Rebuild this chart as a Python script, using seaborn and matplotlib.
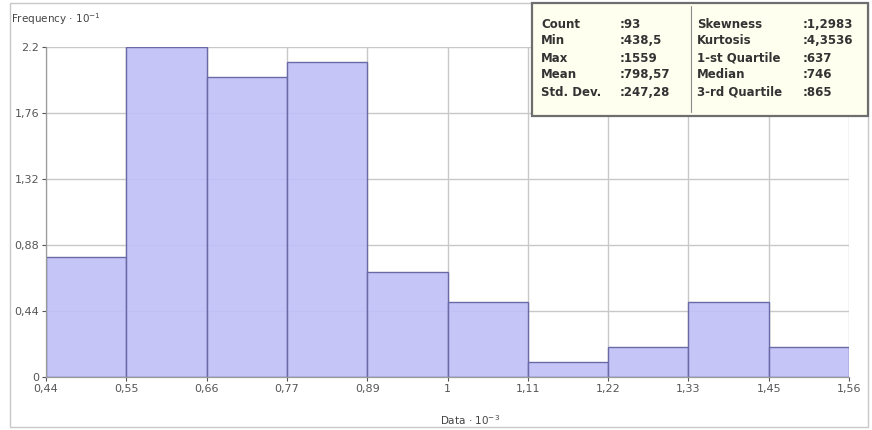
import matplotlib.pyplot as plt
import seaborn as sns
from matplotlib.patches import Rectangle

# histogram data (x in 10^3 units, frequency in 10^1 units)
bin_edges = [0.4385, 0.5506, 0.6626, 0.7747, 0.8867, 0.9988,
             1.1108, 1.2229, 1.3349, 1.4470, 1.5590]
bin_freq = [0.8, 2.2, 2.0, 2.1, 0.7, 0.5, 0.1, 0.2, 0.5, 0.2]
x_tick_labels = ["0,44", "0,55", "0,66", "0,77", "0,89", "1",
                 "1,11", "1,22", "1,33", "1,45", "1,56"]
y_ticks = [0, 0.44, 0.88, 1.32, 1.76, 2.2]
y_tick_labels = ["0", "0,44", "0,88", "1,32", "1,76", "2.2"]

stats_left = [("Count", ":93"), ("Min", ":438,5"), ("Max", ":1559"),
              ("Mean", ":798,57"), ("Std. Dev.", ":247,28")]
stats_right = [("Skewness", ":1,2983"), ("Kurtosis", ":4,3536"),
               ("1-st Quartile", ":637"), ("Median", ":746"),
               ("3-rd Quartile", ":865")]

sns.set_style("white")
plt.rcParams["font.family"] = ["DejaVu Sans"]

fig = plt.figure(figsize=(8.72, 4.30), dpi=100)
ax = fig.add_axes([46 / 872, 1 - 377 / 430, 803 / 872, 330 / 430])

centers = [(bin_edges[i] + bin_edges[i + 1]) / 2 for i in range(len(bin_freq))]
sns.histplot(x=centers, weights=bin_freq, bins=bin_edges, ax=ax,
             color="#c0c0f8", edgecolor="#6a6aa6", linewidth=1.0,
             alpha=0.92, zorder=2)

ax.set_xlim(bin_edges[0], bin_edges[-1])
ax.set_ylim(0, 2.2)
ax.set_xticks(bin_edges)
ax.set_xticklabels(x_tick_labels)
ax.set_yticks(y_ticks)
ax.set_yticklabels(y_tick_labels)
ax.tick_params(axis="both", labelsize=8, colors="#555555", length=3,
               width=0.8, pad=2, direction="out")
ax.tick_params(axis="both", which="both", left=True, bottom=True)
ax.set_xlabel("")
ax.set_ylabel("")
ax.grid(True, color="#c8c8c8", linewidth=1.0, zorder=0)
ax.set_axisbelow(True)
for side in ("top", "right"):
    ax.spines[side].set_visible(False)
for side in ("left", "bottom"):
    ax.spines[side].set_color("#9a9a9a")
    ax.spines[side].set_linewidth(0.9)

# outer frame
fig.patches.append(Rectangle((10 / 872, 3 / 430), 858 / 872, 424 / 430,
                             transform=fig.transFigure, fill=False,
                             edgecolor="#c8c8c8", linewidth=1.0))

fig.text(11 / 872, 1 - 19 / 430, "Frequency · 10$^{-1}$", fontsize=7.5,
         color="#444444", va="center", ha="left")
fig.text(470 / 872, 1 - 420 / 430, "Data · 10$^{-3}$", fontsize=7.5,
         color="#444444", va="center", ha="center")

# statistics box
box = Rectangle((532 / 872, 1 - 116 / 430), 336 / 872, 113 / 430,
                transform=fig.transFigure, facecolor="#fffff0",
                edgecolor="#6e6e6e", linewidth=1.6, zorder=5)
fig.patches.append(box)
fig.lines.append(plt.Line2D([691 / 872, 691 / 872],
                            [1 - 112 / 430, 1 - 6 / 430],
                            transform=fig.transFigure, color="#8a8a8a",
                            linewidth=0.8, zorder=6))
row_y = [24, 41, 58, 75, 92]
for (name, val), y in zip(stats_left, row_y):
    fig.text(541 / 872, 1 - y / 430, name, fontsize=8.5, fontweight="bold",
             color="#333333", va="center", zorder=7)
    fig.text(620 / 872, 1 - y / 430, val, fontsize=8.5, fontweight="bold",
             color="#333333", va="center", zorder=7)
for (name, val), y in zip(stats_right, row_y):
    fig.text(697 / 872, 1 - y / 430, name, fontsize=8.5, fontweight="bold",
             color="#333333", va="center", zorder=7)
    fig.text(803 / 872, 1 - y / 430, val, fontsize=8.5, fontweight="bold",
             color="#333333", va="center", zorder=7)

fig.savefig("out.png", dpi=100)
